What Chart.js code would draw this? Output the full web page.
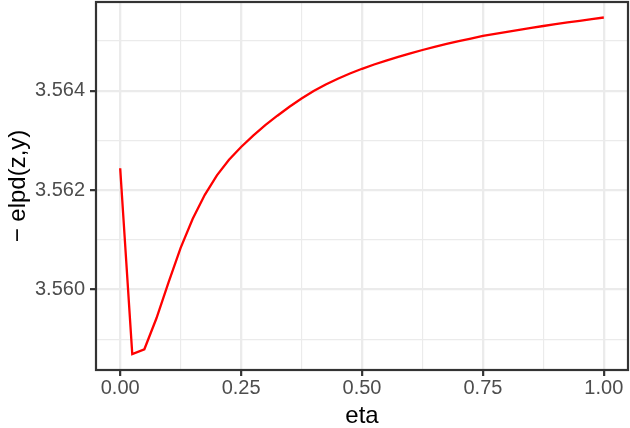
<!DOCTYPE html>
<html>
<head>
<meta charset="utf-8">
<script src="https://cdn.jsdelivr.net/npm/chart.js@4.4.1/dist/chart.umd.min.js"></script>
<style>
  html, body { margin: 0; padding: 0; background: #ffffff; }
  canvas { display: block; }
</style>
</head>
<body>
<canvas id="c" width="630" height="428"></canvas>
<script>
// ---- data ----
const etaValues = [
  0, 0.025, 0.05, 0.075, 0.1, 0.125, 0.15, 0.175, 0.2, 0.225,
  0.25, 0.275, 0.3, 0.325, 0.35, 0.375, 0.4, 0.425, 0.45, 0.475,
  0.5, 0.525, 0.55, 0.575, 0.6, 0.625, 0.65, 0.675, 0.7, 0.725,
  0.75, 0.775, 0.8, 0.825, 0.85, 0.875, 0.9, 0.925, 0.95, 0.975, 1.0
];
const elpdValues = [
  3.562439, 3.558702, 3.558797, 3.559421, 3.560145, 3.560839, 3.561423, 3.561905, 3.562298, 3.562610,
  3.562867, 3.563097, 3.563306, 3.563497, 3.563678, 3.563843, 3.563992, 3.564125, 3.564241, 3.564346,
  3.564441, 3.564527, 3.564607, 3.564680, 3.564751, 3.564819, 3.564882, 3.564942, 3.564997, 3.565050,
  3.565101, 3.565145, 3.565186, 3.565226, 3.565265, 3.565302, 3.565338, 3.565373, 3.565407, 3.565441,
  3.565473
];

const xMajorTicks = [0, 0.25, 0.5, 0.75, 1.0];
const xTickLabels = ['0.00', '0.25', '0.50', '0.75', '1.00'];
const xMinorTicks = [0.125, 0.375, 0.625, 0.875];
const yMajorTicks = [3.560, 3.562, 3.564];
const yTickLabels = ['3.560', '3.562', '3.564'];
const yMinorTicks = [3.559, 3.561, 3.563, 3.565];

const xAxisMin = -0.05, xAxisMax = 1.05;
const yAxisMin = 3.55838, yAxisMax = 3.565785;

const xTitle = 'eta';
const yTitle = '\u2212 elpd(z,y)';

// ---- helpers ----
const FONT = '"Liberation Sans", Arial, Helvetica, sans-serif';
function majorIndex(list, v) {
  for (let i = 0; i < list.length; i++) if (Math.abs(list[i] - v) < 1e-9) return i;
  return -1;
}
function setTicks(major, minor) {
  return function (scale) {
    scale.ticks = major.concat(minor).slice().sort((a, b) => a - b).map(v => ({ value: v }));
  };
}
function gridOpts(major) {
  const isMaj = ctx => ctx && ctx.tick && majorIndex(major, ctx.tick.value) >= 0;
  return {
    color: '#EBEBEB',
    lineWidth: ctx => isMaj(ctx) ? 2.3 : 1.15,
    drawTicks: true,
    tickLength: 6,
    tickWidth: 2.2,
    tickColor: ctx => isMaj(ctx) ? '#333333' : 'rgba(0,0,0,0)'
  };
}

const points = etaValues.map((e, i) => ({ x: e, y: elpdValues[i] }));

const panelBorder = {
  id: 'panelBorder',
  afterDraw(chart) {
    const { ctx, chartArea: a } = chart;
    ctx.save();
    ctx.strokeStyle = '#333333';
    ctx.lineWidth = 2.2;
    ctx.strokeRect(a.left, a.top, a.right - a.left, a.bottom - a.top);
    ctx.restore();
  }
};

new Chart(document.getElementById('c'), {
  type: 'line',
  data: {
    datasets: [{
      data: points,
      borderColor: '#FF0000',
      borderWidth: 2.3,
      pointRadius: 0,
      tension: 0,
      fill: false
    }]
  },
  options: {
    responsive: false,
    animation: false,
    devicePixelRatio: 1,
    layout: { padding: { left: 0, top: 2, right: 2, bottom: 0 } },
    plugins: { legend: { display: false }, tooltip: { enabled: false } },
    scales: {
      x: {
        type: 'linear',
        min: xAxisMin,
        max: xAxisMax,
        afterBuildTicks: setTicks(xMajorTicks, xMinorTicks),
        afterFit: s => { s.height = 58; s.paddingLeft = 0; s.paddingRight = 0; },
        grid: gridOpts(xMajorTicks),
        border: { display: false },
        ticks: {
          autoSkip: false,
          maxRotation: 0,
          padding: 0,
          color: '#4D4D4D',
          font: { family: FONT, size: 20, lineHeight: 1.2 },
          callback: v => { const i = majorIndex(xMajorTicks, v); return i >= 0 ? xTickLabels[i] : ''; }
        },
        title: {
          display: true,
          text: xTitle,
          color: '#000000',
          font: { family: FONT, size: 24, lineHeight: 1.2 },
          padding: { top: 0, bottom: -3 }
        }
      },
      y: {
        type: 'linear',
        min: yAxisMin,
        max: yAxisMax,
        afterBuildTicks: setTicks(yMajorTicks, yMinorTicks),
        afterFit: s => { s.width = 96; s.paddingTop = 0; s.paddingBottom = 0; },
        grid: gridOpts(yMajorTicks),
        border: { display: false },
        ticks: {
          autoSkip: false,
          padding: 5,
          color: '#4D4D4D',
          font: { family: FONT, size: 20, lineHeight: 1.2 },
          callback: v => { const i = majorIndex(yMajorTicks, v); return i >= 0 ? yTickLabels[i] : ''; }
        },
        title: {
          display: true,
          text: yTitle,
          color: '#000000',
          font: { family: FONT, size: 24, lineHeight: 1.2 },
          padding: { top: 3.5, bottom: 0 }
        }
      }
    }
  },
  plugins: [panelBorder]
});
</script>
</body>
</html>
